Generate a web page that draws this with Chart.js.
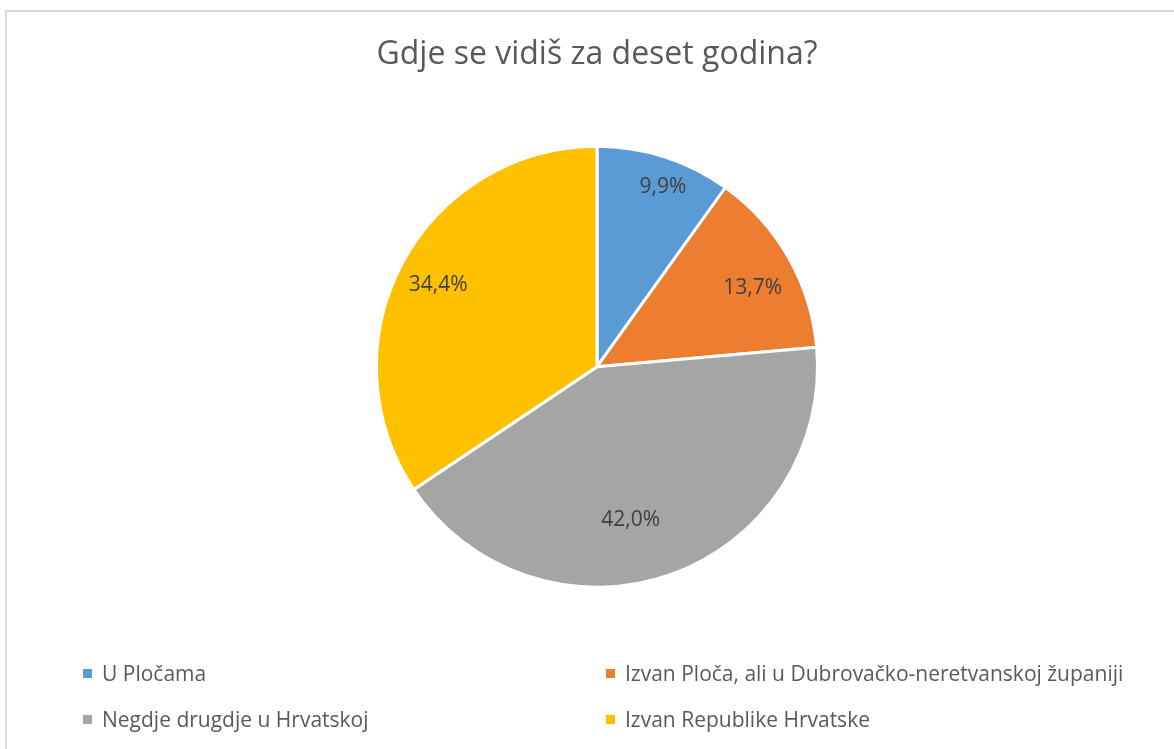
<!DOCTYPE html>
<html>
<head>
<meta charset="utf-8">
<script src="https://cdn.jsdelivr.net/npm/chart.js@4.4.1/dist/chart.umd.min.js"></script>
<style>
  html, body { margin: 0; padding: 0; background: #fff; overflow: hidden; }
  #wrap { position: relative; width: 1174px; height: 749px; }
  #frame {
    position: absolute; left: 5px; top: 10px; width: 1180px; height: 760px;
    border: 2px solid #d9d9d9; box-sizing: border-box;
  }
  #chart { position: absolute; left: 0; top: 0; }
  .legend-item {
    position: absolute; font-family: 'Open Sans', sans-serif; font-size: 21px;
    color: #595959; line-height: 28px; white-space: nowrap;
  }
  .legend-item .box {
    position: absolute; left: -19px; top: 10px; width: 9px; height: 9px;
  }
</style>
</head>
<body>
<div id="wrap">
  <div id="frame"></div>
  <canvas id="chart" width="1174" height="749"></canvas>
  <div id="legend"></div>
</div>
<script>
// Data
const categories = [
  'U Pločama',
  'Izvan Ploča, ali u Dubrovačko-neretvanskoj županiji',
  'Negdje drugdje u Hrvatskoj',
  'Izvan Republike Hrvatske'
];
const values = [9.9, 13.7, 42.0, 34.4];
const colors = ['#5b9bd5', '#ed7d31', '#a5a5a5', '#ffc000'];
const chartTitle = 'Gdje se vidiš za deset godina?';

// label placement inside the slices (fraction of radius, angle nudge in degrees)
const labelRadius = [0.87, 0.79, 0.71, 0.81];
const labelNudge = [2.3, 3, 7, -0.8];

const sliceLabels = {
  id: 'sliceLabels',
  afterDatasetsDraw(chart) {
    const ctx = chart.ctx;
    const meta = chart.getDatasetMeta(0);
    ctx.save();
    ctx.font = '21px "Open Sans", sans-serif';
    ctx.fillStyle = '#404040';
    ctx.textAlign = 'center';
    ctx.textBaseline = 'middle';
    meta.data.forEach((arc, i) => {
      const p = arc.getProps(['x', 'y', 'startAngle', 'endAngle', 'outerRadius'], true);
      const mid = (p.startAngle + p.endAngle) / 2 + labelNudge[i] * Math.PI / 180;
      const r = p.outerRadius * labelRadius[i];
      const text = values[i].toFixed(1).replace('.', ',') + '%';
      ctx.fillText(text, p.x + Math.cos(mid) * r, p.y + Math.sin(mid) * r);
    });
    ctx.restore();
  }
};

new Chart(document.getElementById('chart'), {
  type: 'pie',
  data: {
    labels: categories,
    datasets: [{
      data: values,
      backgroundColor: colors,
      borderColor: '#ffffff',
      borderWidth: 3
    }]
  },
  options: {
    responsive: false,
    animation: false,
    layout: {
      padding: { left: 375, right: 355, top: 20, bottom: 160 }
    },
    plugins: {
      legend: { display: false },
      tooltip: { enabled: false },
      title: {
        display: true,
        text: chartTitle,
        color: '#595959',
        font: { family: "'Open Sans', sans-serif", size: 32, weight: 'normal' },
        padding: { top: 16, bottom: 70 }
      }
    }
  },
  plugins: [sliceLabels]
});

// Legend, two columns
const legend = document.getElementById('legend');
const legendPos = [[102, 659], [625, 659], [102, 705], [625, 705]];
categories.forEach((name, i) => {
  const item = document.createElement('div');
  item.className = 'legend-item';
  item.style.left = legendPos[i][0] + 'px';
  item.style.top = legendPos[i][1] + 'px';
  const box = document.createElement('span');
  box.className = 'box';
  box.style.background = colors[i];
  item.appendChild(box);
  item.appendChild(document.createTextNode(name));
  legend.appendChild(item);
});
</script>
</body>
</html>
